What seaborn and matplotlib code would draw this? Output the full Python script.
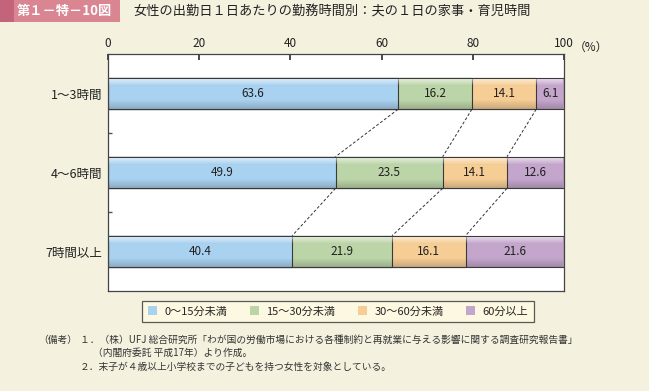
import numpy as np
import pandas as pd
import matplotlib
matplotlib.use("Agg")
import matplotlib.pyplot as plt
from matplotlib.patches import Patch, Rectangle
import seaborn as sns

# ── data ───────────────────────────────────────────────────────────────────────
categories = ["1～3時間", "4～6時間", "7時間以上"]
series_names = ["0～15分未満", "15～30分未満", "30～60分未満", "60分以上"]
under_15 = [63.6, 49.9, 40.4]
from_15_to_30 = [16.2, 23.5, 21.9]
from_30_to_60 = [14.1, 14.1, 16.1]
over_60 = [6.1, 12.6, 21.6]
x_ticks = [0, 20, 40, 60, 80, 100]
x_tick_labels = ["0", "20", "40", "60", "80", "100"]

colors = ["#a9d1f0", "#bcd5a8", "#f6cd94", "#c4a5cc"]
BG = "#f4f1df"
BAR_H = 0.4

sns.set_theme(style="white")
plt.rcParams["font.family"] = ["Noto Sans CJK JP", "DejaVu Sans"]

values = np.array([under_15, from_15_to_30, from_30_to_60, over_60])  # [series, cat]
cum = np.cumsum(values, axis=0)

fig = plt.figure(figsize=(6.49, 3.91), dpi=100, facecolor=BG)
ax = fig.add_axes([108 / 649, 1 - 291 / 391, 456 / 649, 237 / 391])
ax.set_facecolor("white")

# stacked bars: draw cumulative totals from the longest down
for k in range(len(series_names) - 1, -1, -1):
    df = pd.DataFrame({"cat": categories, "val": cum[k]})
    sns.barplot(data=df, x="val", y="cat", orient="h", color=colors[k],
                saturation=1, width=BAR_H, edgecolor="#3a3a3a", linewidth=0.8,
                ax=ax, errorbar=None)

# soft highlight / shade over each bar (the reference has a glossy look)
n = 64
t = np.linspace(0, 1, n)
grad = np.zeros((n, 1, 4))
white_a = np.clip(0.55 * (1 - t / 0.22), 0, None)
dark_a = np.clip(0.22 * (t - 0.7) / 0.3, 0, None)
grad[:, 0, :3] = np.where((white_a > 0)[:, None], 1.0, 0.15)
grad[:, 0, 3] = white_a + dark_a
for i in range(len(categories)):
    ax.imshow(grad, extent=[0.3, cum[-1, i] - 0.3, i + BAR_H / 2 - 0.01,
                            i - BAR_H / 2 + 0.02],
              origin="upper", aspect="auto", zorder=3, interpolation="bilinear")

# value labels in each segment
for k in range(len(series_names)):
    for i in range(len(categories)):
        ax.text(cum[k, i] - values[k, i] / 2, i, f"{values[k, i]:.1f}",
                ha="center", va="center", fontsize=8.5, color="#222222",
                zorder=5)

# dashed connectors between neighbouring bars
for i in range(len(categories) - 1):
    for k in range(len(series_names) - 1):
        ax.plot([cum[k, i], cum[k, i + 1]], [i + BAR_H / 2, i + 1 - BAR_H / 2],
                ls=(0, (3, 2)), color="#333333", lw=0.7)

ax.set_xlim(0, 100)
ax.set_ylim(2.5, -0.5)
ax.set_xlabel("")
ax.set_ylabel("")
ax.xaxis.tick_top()
ax.set_xticks(x_ticks)
ax.set_xticklabels(x_tick_labels, fontsize=8.5)
ax.tick_params(axis="x", direction="in", length=4, pad=3, colors="#333333",
               labelcolor="#222222", top=True, bottom=False)
ax.text(102.2, -0.5, "（%）", fontsize=8.5, color="#222222", ha="left",
        va="bottom", clip_on=False, transform=ax.transData)
ax.set_yticks([0, 1, 2])
ax.set_yticklabels(categories, fontsize=9)
ax.set_yticks([0.5, 1.5], minor=True)
ax.tick_params(axis="y", which="major", length=0, pad=4, labelcolor="#222222")
ax.tick_params(axis="y", which="minor", direction="in", length=3, left=True,
               color="#555555")
for s in ax.spines.values():
    s.set_color("#444444")
    s.set_linewidth(0.9)

# legend
handles = [Patch(facecolor=c, edgecolor="none") for c in colors]
leg = fig.legend(handles, series_names, loc="center", ncol=4,
                 bbox_to_anchor=(338 / 649, 1 - 311.5 / 391), fontsize=8,
                 frameon=True, fancybox=False, handlelength=0.8,
                 handleheight=0.8, columnspacing=2.0, handletextpad=0.7,
                 borderpad=0.5)
leg.get_frame().set_facecolor("#fffbe2")
leg.get_frame().set_edgecolor("#333333")
leg.get_frame().set_linewidth(0.9)

# title banner
fig.patches.append(Rectangle((0, 1 - 22 / 391), 120 / 649, 22 / 391,
                             transform=fig.transFigure, facecolor="#d98592",
                             edgecolor="none"))
fig.patches.append(Rectangle((0, 1 - 22 / 391), 14 / 649, 22 / 391,
                             transform=fig.transFigure, facecolor="#c3647a",
                             edgecolor="none"))
fig.text(64 / 649, 1 - 11 / 391, "第１－特－10図", color="white",
         fontsize=9.5, fontweight="bold", ha="center", va="center")
fig.text(133 / 649, 1 - 12 / 391,
         "女性の出勤日１日あたりの勤務時間別：夫の１日の家事・育児時間",
         fontsize=9.5, ha="left", va="center", color="#222222")

# notes
note_kw = dict(fontsize=7, ha="left", va="center", color="#333333")
fig.text(38 / 649, 1 - 340 / 391, "（備考）", **note_kw)
fig.text(80 / 649, 1 - 340 / 391,
         "１．（株）UFJ 総合研究所「わが国の労働市場における各種制約と再就業に与える影響に関する調査研究報告書」",
         **note_kw)
fig.text(93 / 649, 1 - 353 / 391, "（内閣府委託 平成17年）より作成。", **note_kw)
fig.text(80 / 649, 1 - 367 / 391,
         "２．末子が４歳以上小学校までの子どもを持つ女性を対象としている。",
         **note_kw)

fig.savefig("out.png", dpi=100, facecolor=BG)
